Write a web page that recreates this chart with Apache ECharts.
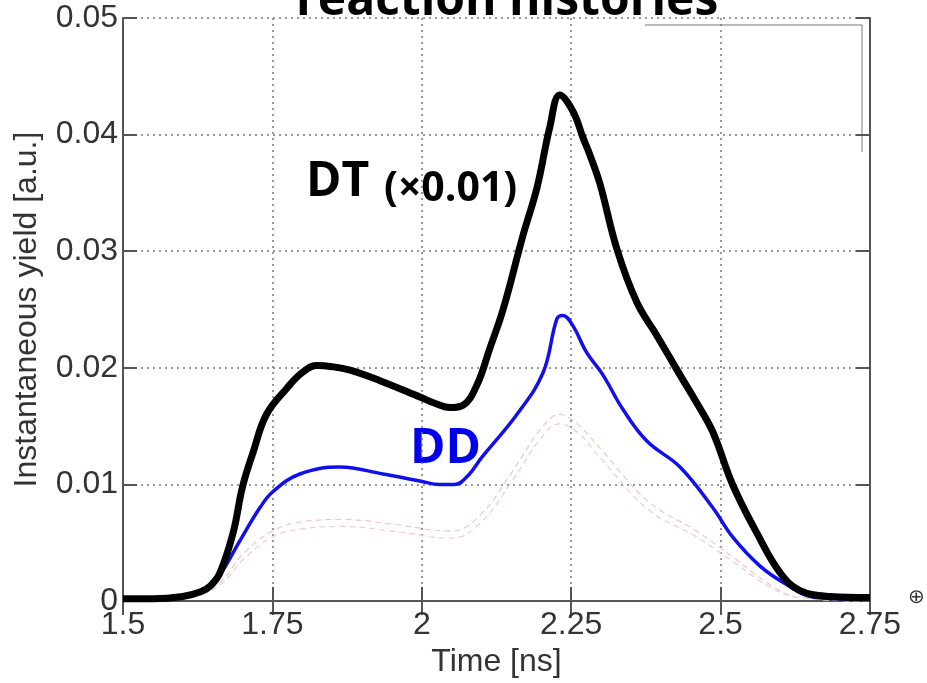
<!DOCTYPE html>
<html>
<head>
<meta charset="utf-8">
<script src="https://cdn.jsdelivr.net/npm/echarts@6/dist/echarts.min.js"></script>
<style>
  html, body { margin: 0; padding: 0; background: #fff; }
  #chart { width: 927px; height: 683px; }
</style>
</head>
<body>
<div id="chart"></div>
<script>
// time [ns] and yields
const dtTime = [1.5, 1.55, 1.6, 1.63, 1.646, 1.662, 1.684, 1.70, 1.718, 1.74, 1.775, 1.80, 1.824, 1.85, 1.88, 1.93, 1.997, 2.025, 2.047, 2.069, 2.092, 2.114, 2.136, 2.169, 2.193, 2.214, 2.231, 2.253, 2.27, 2.281, 2.298, 2.327, 2.36, 2.393, 2.432, 2.46, 2.487, 2.52, 2.561, 2.6, 2.633, 2.683, 2.75];
const dtYield = [0.0002, 0.0002, 0.0004, 0.0008, 0.0013, 0.0024, 0.0058, 0.0098, 0.0128, 0.016, 0.0183, 0.0196, 0.0202, 0.0201, 0.0198, 0.0189, 0.0175, 0.0169, 0.0166, 0.0168, 0.0185, 0.0217, 0.025, 0.0313, 0.0355, 0.0406, 0.0434, 0.042, 0.0397, 0.0383, 0.0358, 0.0301, 0.0256, 0.0228, 0.0194, 0.017, 0.0145, 0.010, 0.0058, 0.0024, 0.0009, 0.0004, 0.0003];

const ddTime = [1.5, 1.6, 1.646, 1.662, 1.696, 1.729, 1.751, 1.796, 1.863, 1.935, 1.997, 2.03, 2.055, 2.078, 2.10, 2.159, 2.203, 2.226, 2.236, 2.253, 2.276, 2.303, 2.337, 2.377, 2.432, 2.487, 2.52, 2.566, 2.611, 2.65, 2.7, 2.75];
const ddYield = [0.0001, 0.0003, 0.0012, 0.0022, 0.0052, 0.008, 0.0094, 0.0109, 0.0115, 0.0109, 0.0103, 0.0100, 0.0100, 0.0108, 0.0123, 0.016, 0.0196, 0.0242, 0.0245, 0.0236, 0.0213, 0.0194, 0.0164, 0.0137, 0.0115, 0.008, 0.0055, 0.003, 0.0014, 0.0004, 0.0002, 0.0001];

// the two faint red dashed curves
const redTime = [1.5, 1.6, 1.66, 1.7, 1.75, 1.8, 1.87, 1.95, 2.05, 2.1, 2.15, 2.2, 2.23, 2.26, 2.3, 2.38, 2.46, 2.52, 2.58, 2.63, 2.75];
const redUpper = [0, 0.0002, 0.0015, 0.004, 0.006, 0.0068, 0.007, 0.0066, 0.006, 0.0075, 0.011, 0.0148, 0.016, 0.0152, 0.013, 0.0085, 0.006, 0.0038, 0.0015, 0.0003, 0];
const redLower = [0, 0.0002, 0.0013, 0.0035, 0.0055, 0.0062, 0.0064, 0.006, 0.0054, 0.0068, 0.0102, 0.014, 0.0152, 0.0145, 0.0122, 0.0078, 0.0055, 0.0034, 0.0013, 0.0003, 0];

const xTicks = { min: 1.5, max: 2.75, interval: 0.25 };
const yTicks = { min: 0, max: 0.05, interval: 0.01 };

const pairs = (xs, ys) => xs.map((x, i) => [x, ys[i]]);

const chart = echarts.init(document.getElementById('chart'));

const tickFont = { fontFamily: 'Liberation Sans', fontSize: 32, color: '#333' };
const axisLine = { show: true, lineStyle: { color: '#555', width: 2 } };
const tick = { show: true, inside: true, length: 14, lineStyle: { color: '#555', width: 2 } };
const grid = { show: true, lineStyle: { color: '#777', type: [2, 4], width: 1.5 } };

const option = {
  animation: false,
  backgroundColor: '#fff',
  grid: { left: 123, right: 57, top: 18, bottom: 75 },
  xAxis: [
    {
      type: 'value', ...xTicks,
      name: 'Time [ns]', nameLocation: 'middle', nameGap: 36,
      nameTextStyle: tickFont,
      axisLine, axisTick: tick, splitLine: grid,
      axisLabel: { ...tickFont, margin: 8, showMinLabel: true, showMaxLabel: true }
    },
    {
      type: 'value', ...xTicks, position: 'top',
      axisLine, axisTick: tick, splitLine: { show: false }, axisLabel: { show: false }
    }
  ],
  yAxis: [
    {
      type: 'value', ...yTicks,
      name: 'Instantaneous yield [a.u.]', nameLocation: 'middle', nameGap: 80,
      nameTextStyle: tickFont,
      axisLine, axisTick: tick, splitLine: grid,
      axisLabel: { ...tickFont, margin: 5 }
    },
    {
      type: 'value', ...yTicks, position: 'right',
      axisLine, axisTick: tick, splitLine: { show: false }, axisLabel: { show: false }
    }
  ],
  series: [
    {
      type: 'line', data: pairs(redTime, redUpper), smooth: 0.4, symbol: 'none',
      lineStyle: { color: '#f2c6c6', width: 1.2, type: [6, 4] }
    },
    {
      type: 'line', data: pairs(redTime, redLower), smooth: 0.4, symbol: 'none',
      lineStyle: { color: '#f2cccc', width: 1.2, type: [6, 4] }
    },
    {
      type: 'line', data: pairs(ddTime, ddYield), smooth: 0.4, symbol: 'none',
      lineStyle: { color: '#1010ee', width: 3.5 }
    },
    {
      type: 'line', data: pairs(dtTime, dtYield), smooth: 0.4, symbol: 'none',
      lineStyle: { color: '#000', width: 7 }
    }
  ],
  graphic: [
    {
      type: 'text', x: 296, y: -23,
      style: { text: 'reaction histories', font: 'bold 48px "Open Sans"', fill: '#000' }
    },
    {
      type: 'text', x: 306, y: 158,
      style: { text: 'DT', font: 'bold 48px "Open Sans"', fill: '#000' }
    },
    {
      type: 'text', x: 384, y: 169,
      style: { text: '(×0.01)', font: 'bold 41px "Open Sans"', fill: '#000' }
    },
    {
      type: 'text', x: 410, y: 425,
      style: { text: 'DD', font: 'bold 48px "Open Sans"', fill: '#0000ee' }
    },
    {
      type: 'line', shape: { x1: 645, y1: 25, x2: 862, y2: 25 },
      style: { stroke: '#777', lineWidth: 1 }
    },
    {
      type: 'line', shape: { x1: 862, y1: 25, x2: 862, y2: 152 },
      style: { stroke: '#777', lineWidth: 1 }
    },
    {
      type: 'text', x: 908, y: 588,
      style: { text: '⊕', font: '20px "DejaVu Sans"', fill: '#333' }
    }
  ]
};

chart.setOption(option);
</script>
</body>
</html>
